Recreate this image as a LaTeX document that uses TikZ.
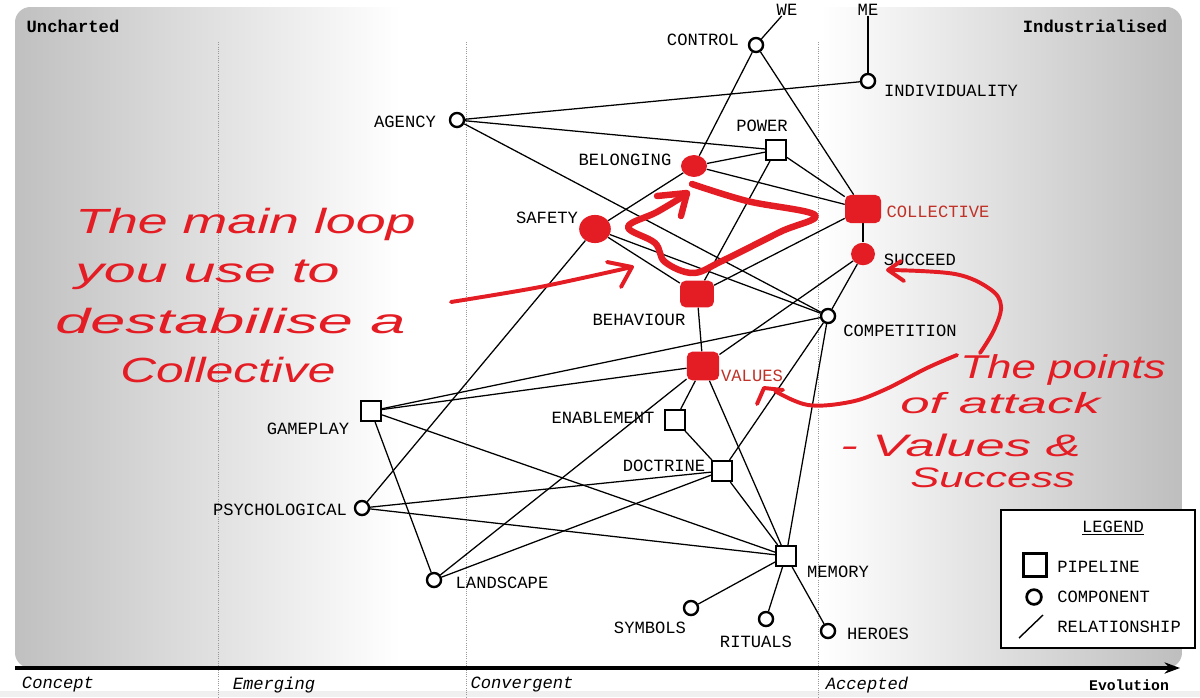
\documentclass[tikz,border=0pt]{standalone}
\usepackage{fontspec}
\setmonofont{Liberation Mono}
\newfontfamily\handfont{Liberation Sans}
\usetikzlibrary{shapes.geometric, arrows.meta}
\pgfdeclarelayer{bg0}\pgfdeclarelayer{edges}\pgfdeclarelayer{fg}
\pgfsetlayers{bg0,edges,main,fg}
\definecolor{gA}{RGB}{192,192,192}
\definecolor{gB}{RGB}{190,190,190}
\definecolor{hred}{RGB}{228,28,36}
\definecolor{lred}{RGB}{192,50,40}
\definecolor{strip}{RGB}{240,240,240}
\pgfdeclarehorizontalshading{mapbg}{100bp}{color(0bp)=(gA); color(25bp)=(gA); color(41.5bp)=(white); color(59.5bp)=(white); color(75bp)=(gB); color(100bp)=(gB)}
\tikzset{
 lbl/.style={font=\ttfamily\fontsize{12.2}{14}\selectfont, inner sep=0pt, text=black},
 redlbl/.style={lbl, text=lred},
 comp/.style={circle, draw, line width=1.7pt, fill=white, minimum size=10pt, inner sep=0pt},
 pipe/.style={rectangle, draw, line width=1.7pt, fill=white, minimum size=14pt, inner sep=0pt},
 blobc/.style={ellipse, fill=hred, inner sep=0pt},
 blobs/.style={rectangle, rounded corners=4pt, fill=hred, inner sep=0pt},
 rel/.style={line width=0.9pt},
 ink/.style={hred, line width=4.6pt, line cap=round, line join=round},
 inkthin/.style={hred, line width=2.8pt, line cap=round, line join=round},
 hand/.style={text=hred, inner sep=0pt, anchor=base west, font=\handfont\itshape},
 stage/.style={font=\ttfamily\itshape\fontsize{12.2}{14}\selectfont, inner sep=0pt},
 vline/.style={gray!80, line width=0.6pt, densely dotted},
}
\begin{document}
\begin{tikzpicture}[x=0.025cm, y=-0.025cm]
\useasboundingbox (0,0) rectangle (1200,697);
\begin{pgfonlayer}{bg0}
\fill[white] (0,0) rectangle (1200,697);
\shade[shading=mapbg, rounded corners=11pt] (15,7) rectangle (1182,668);
\fill[strip] (0,691) rectangle (1200,697);
\draw[vline] (218,42) -- (218,697);
\draw[vline] (466,42) -- (466,697);
\draw[vline] (818,42) -- (818,697);
\end{pgfonlayer}

% axis
\draw[line width=2.2pt, -{Stealth[length=11pt, width=8pt]}] (15,668) -- (1180,668);
\node[stage] (sConcept) at (58,685) {Concept};
\node[stage] (sEmerging) at (274,685) {Emerging};
\node[stage] (sConvergent) at (522,685) {Convergent};
\node[stage] (sAccepted) at (867,685) {Accepted};
\node[lbl, font=\ttfamily\bfseries\fontsize{10.5}{12}\selectfont] (sEvolution) at (1129,685) {Evolution};
\node[lbl, font=\ttfamily\bfseries\fontsize{12.2}{14}\selectfont] (tUncharted) at (73,26) {Uncharted};
\node[lbl, font=\ttfamily\bfseries\fontsize{12.2}{14}\selectfont] (tIndustrialised) at (1095,26) {Industrialised};

% components
\node[comp] (CONTROL) at (756,45) {};
\node[comp] (INDIVIDUALITY) at (868,81) {};
\node[comp] (AGENCY) at (457,120) {};
\node[pipe] (POWER) at (776,150) {};
\node[blobc, minimum width=18.5pt, minimum height=15.6pt] (BELONGING) at (694,166) {};
\node[blobc, minimum width=22.5pt, minimum height=20pt] (SAFETY) at (595,229) {};
\node[blobs, minimum width=25.6pt, minimum height=20pt] (COLLECTIVE) at (863,209) {};
\node[blobc, minimum width=17pt, minimum height=16pt] (SUCCEED) at (863,254) {};
\node[blobs, minimum width=24pt, minimum height=19pt] (BEHAVIOUR) at (697,294) {};
\node[comp] (COMPETITION) at (828,316) {};
\node[blobs, minimum width=23pt, minimum height=20.5pt] (VALUES) at (703,366) {};
\node[pipe] (GAMEPLAY) at (371,411) {};
\node[pipe] (ENABLEMENT) at (675,420) {};
\node[pipe] (DOCTRINE) at (722,471) {};
\node[comp] (PSYCHOLOGICAL) at (362,508) {};
\node[comp] (LANDSCAPE) at (434,580) {};
\node[pipe] (MEMORY) at (786,556) {};
\node[comp] (SYMBOLS) at (691,608) {};
\node[comp] (RITUALS) at (766,619) {};
\node[comp] (HEROES) at (828,631) {};

% labels
\node[lbl] (tWE) at (787,10) {WE};
\node[lbl] (tME) at (868,10) {ME};
\node[lbl] (lCONTROL) at (703,40) {CONTROL};
\node[lbl] (lINDIVIDUALITY) at (951,91) {INDIVIDUALITY};
\node[lbl] (lAGENCY) at (405,122) {AGENCY};
\node[lbl] (lPOWER) at (762,126) {POWER};
\node[lbl] (lBELONGING) at (625,160) {BELONGING};
\node[lbl] (lSAFETY) at (547,218) {SAFETY};
\node[redlbl] (lCOLLECTIVE) at (938,212) {COLLECTIVE};
\node[lbl] (lSUCCEED) at (920,260) {SUCCEED};
\node[lbl] (lBEHAVIOUR) at (639,320) {BEHAVIOUR};
\node[lbl] (lCOMPETITION) at (900,331) {COMPETITION};
\node[redlbl] (lVALUES) at (752,376) {VALUES};
\node[lbl] (lGAMEPLAY) at (308,429) {GAMEPLAY};
\node[lbl] (lENABLEMENT) at (603,418) {ENABLEMENT};
\node[lbl] (lDOCTRINE) at (664,466) {DOCTRINE};
\node[lbl] (lPSYCHOLOGICAL) at (280,510) {PSYCHOLOGICAL};
\node[lbl] (lLANDSCAPE) at (502,583) {LANDSCAPE};
\node[lbl] (lMEMORY) at (838,572) {MEMORY};
\node[lbl] (lSYMBOLS) at (650,628) {SYMBOLS};
\node[lbl] (lRITUALS) at (756,642) {RITUALS};
\node[lbl] (lHEROES) at (878,634) {HEROES};

% relationships
\begin{pgfonlayer}{edges}
\draw[rel] (CONTROL) -- (tWE);
\draw[rel] (tME) -- (INDIVIDUALITY);
\draw[rel] (CONTROL) -- (BELONGING);
\draw[rel] (CONTROL) -- (COLLECTIVE);
\draw[rel] (AGENCY) -- (INDIVIDUALITY);
\draw[rel] (AGENCY) -- (POWER);
\draw[rel] (AGENCY) -- (COMPETITION);
\draw[rel] (POWER) -- (BELONGING);
\draw[rel] (POWER) -- (COLLECTIVE);
\draw[rel] (POWER) -- (BEHAVIOUR);
\draw[rel] (BELONGING) -- (COLLECTIVE);
\draw[rel] (BELONGING) -- (SAFETY);
\draw[rel] (SAFETY) -- (PSYCHOLOGICAL);
\draw[rel] (SAFETY) -- (BEHAVIOUR);
\draw[rel] (SAFETY) -- (COMPETITION);
\draw[rel] (BEHAVIOUR) -- (COLLECTIVE);
\draw[rel] (BEHAVIOUR) -- (VALUES);
\draw[rel] (COLLECTIVE) -- (SUCCEED);
\draw[rel] (SUCCEED) -- (COMPETITION);
\draw[rel] (SUCCEED) -- (VALUES);
\draw[rel] (COMPETITION) -- (GAMEPLAY);
\draw[rel] (COMPETITION) -- (DOCTRINE);
\draw[rel] (COMPETITION) -- (MEMORY);
\draw[rel] (VALUES) -- (GAMEPLAY);
\draw[rel] (VALUES) -- (LANDSCAPE);
\draw[rel] (VALUES) -- (ENABLEMENT);
\draw[rel] (VALUES) -- (MEMORY);
\draw[rel] (ENABLEMENT) -- (DOCTRINE);
\draw[rel] (DOCTRINE) -- (LANDSCAPE);
\draw[rel] (DOCTRINE) -- (PSYCHOLOGICAL);
\draw[rel] (DOCTRINE) -- (MEMORY);
\draw[rel] (GAMEPLAY) -- (MEMORY);
\draw[rel] (GAMEPLAY) -- (LANDSCAPE);
\draw[rel] (PSYCHOLOGICAL) -- (MEMORY);
\draw[rel] (MEMORY) -- (SYMBOLS);
\draw[rel] (MEMORY) -- (RITUALS);
\draw[rel] (MEMORY) -- (HEROES);
\end{pgfonlayer}

% legend
\draw[line width=1.1pt, fill=white] (1001,510) rectangle (1195,648);
\node[lbl] (tLEGEND) at (1113,528) {\underline{LEGEND}};
\node[pipe, minimum size=16pt, line width=2pt] (legPipe) at (1035,565) {};
\node[comp, minimum size=10.5pt, line width=1.9pt] (legComp) at (1034,597) {};
\draw[line width=1pt] (1019,638) -- (1043,615);
\node[lbl, anchor=west] (tPIPELINE) at (1057,567) {PIPELINE};
\node[lbl, anchor=west] (tCOMPONENT) at (1057,597) {COMPONENT};
\node[lbl, anchor=west] (tRELATIONSHIP) at (1057,627) {RELATIONSHIP};

% red annotations
\begin{pgfonlayer}{fg}
\node[hand] (h1) at (75,233) {\resizebox{242pt}{18pt}{The main loop}};
\node[hand] (h2) at (75,282) {\resizebox{188pt}{16pt}{you use to}};
\node[hand] (h3) at (55,333) {\resizebox{249pt}{18pt}{destabilise a}};
\node[hand] (h4) at (120,382) {\resizebox{153pt}{18pt}{Collective}};
\node[hand] (h5) at (960,378) {\resizebox{146pt}{17pt}{The points}};
\node[hand] (h6) at (900,413) {\resizebox{142pt}{15pt}{of attack}};
\node[hand] (h7) at (840,456) {\resizebox{171pt}{16pt}{- Values \&}};
\node[hand] (h8) at (910,487) {\resizebox{117pt}{14pt}{Success}};
% main loop
\draw[ink] plot[smooth, tension=0.6] coordinates {(692,184) (747,201) (815,215) (780,232) (722,261) (693,273) (665,262) (655,243) (628,227) (657,212) (687,194)};
\draw[ink] (657,196) -- (687,193) -- (681,216);
% arrow from left text
\draw[inkthin] plot[smooth, tension=0.5] coordinates {(451,302) (540,287) (632,267)};
\draw[inkthin] (607,262) -- (632,267) -- (621,287);
% arrow to SUCCEED
\draw[inkthin] plot[smooth, tension=0.6] coordinates {(980,353) (994,330) (1001,306) (990,289) (955,274) (890,270)};
\draw[inkthin] (901,261) -- (888,270) -- (904,281);
% arrow to VALUES
\draw[inkthin] plot[smooth, tension=0.6] coordinates {(957,355) (927,368) (884,390) (850,402) (808,405) (775,391)};
\draw[inkthin] (757,404) -- (764,388) -- (783,390);
\end{pgfonlayer}
\end{tikzpicture}
\end{document}
